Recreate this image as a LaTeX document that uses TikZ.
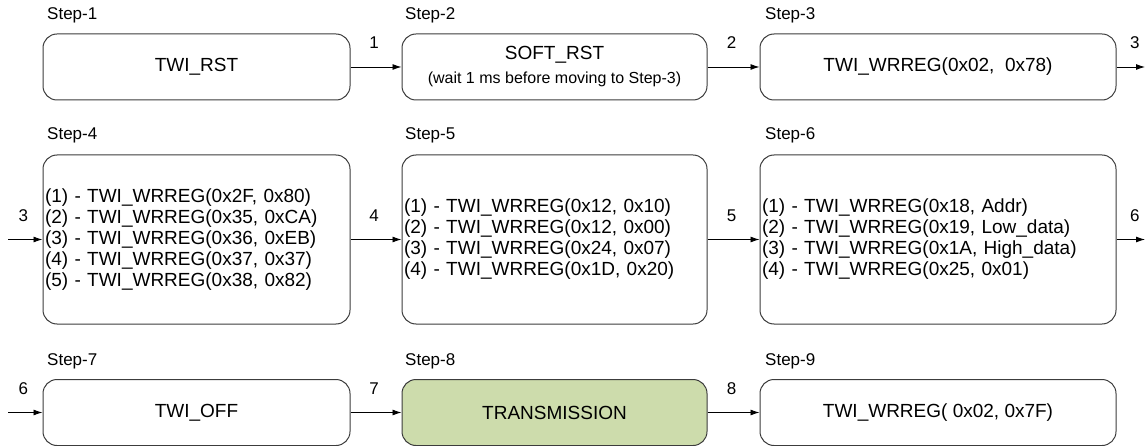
\documentclass[tikz,border=0pt]{standalone}
\usepackage{fontspec}
\setmainfont{Liberation Sans}
\usepackage{tikz}
\usetikzlibrary{arrows.meta}
\definecolor{boxgray}{RGB}{60,60,60}
\definecolor{txgreen}{RGB}{205,220,172}
\newcommand{\boxfont}{\fontsize{19}{21}\selectfont}
\newcommand{\smallfont}{\fontsize{16}{19}\selectfont}
\newcommand{\lblfont}{\fontsize{17}{20}\selectfont}
\tikzset{
  box/.style={draw=boxgray, line width=1pt, rounded corners=14pt, inner sep=2pt,
    minimum height=66pt, font=\boxfont},
  tallbox/.style={box, minimum height=169pt, align=left},
  arr/.style={-{Latex[length=9pt,width=6pt]}, line width=0.9pt},
  num/.style={midway, yshift=24pt, xshift=-2pt, font=\lblfont, inner sep=0pt}
}
\newcommand{\steplabel}[4]{\node[font=\lblfont, anchor=west, inner sep=0pt] (#1) at ( #2 , #3 ) {#4};}

\begin{document}
\begin{tikzpicture}[x=1pt,y=-1pt]
\useasboundingbox (0,0) rectangle (1147,446);
% row 1 of boxes
\node[box, minimum width=307pt] (s1) at (196.5,67) {TWI\_RST};
\node[box, minimum width=305pt, align=center] (s2) at (554.5,67)
  {SOFT\_RST\\[3pt]{\smallfont (wait 1 ms before moving to Step-3)}};
\node[box, minimum width=356pt] (s3) at (938,67) {TWI\_WRREG(0x02,\ \ 0x78)};
% row 2 of boxes
\node[tallbox, text width=303pt] (s4) at (196.5,239.5)
  {(1) - TWI\_WRREG(0x2F, 0x80)\\(2) - TWI\_WRREG(0x35, 0xCA)\\(3) - TWI\_WRREG(0x36, 0xEB)\\(4) - TWI\_WRREG(0x37, 0x37)\\(5) - TWI\_WRREG(0x38, 0x82)};
\node[tallbox, text width=301pt] (s5) at (554.5,239.5)
  {(1) - TWI\_WRREG(0x12, 0x10)\\(2) - TWI\_WRREG(0x12, 0x00)\\(3) - TWI\_WRREG(0x24, 0x07)\\(4) - TWI\_WRREG(0x1D, 0x20)};
\node[tallbox, text width=352pt] (s6) at (938,239.5)
  {(1) - TWI\_WRREG(0x18, Addr)\\(2) - TWI\_WRREG(0x19, Low\_data)\\(3) - TWI\_WRREG(0x1A, High\_data)\\(4) - TWI\_WRREG(0x25, 0x01)};
% row 3 of boxes
\node[box, minimum width=307pt] (s7) at (196.5,412.5) {TWI\_OFF};
\node[box, minimum width=305pt, fill=txgreen] (s8) at (554.5,412.5) {TRANSMISSION};
\node[box, minimum width=356pt] (s9) at (938,412.5) {TWI\_WRREG( 0x02, 0x7F)};
% step labels
\steplabel{l1}{47}{15}{Step-1}
\steplabel{l2}{405}{15}{Step-2}
\steplabel{l3}{765}{15}{Step-3}
\steplabel{l4}{47}{135}{Step-4}
\steplabel{l5}{405}{135}{Step-5}
\steplabel{l6}{765}{135}{Step-6}
\steplabel{l7}{47}{361}{Step-7}
\steplabel{l8}{405}{361}{Step-8}
\steplabel{l9}{765}{361}{Step-9}
% loose ends
\coordinate (out3) at (1145,67);
\coordinate (in4) at (8,239.5);
\coordinate (out6) at (1145,239.5);
\coordinate (in7) at (8,412.5);
% arrows
\draw[arr] (s1.east) -- node[num]{1} (s2.west);
\draw[arr] (s2.east) -- node[num]{2} (s3.west);
\draw[arr] (s3.east) -- node[num, xshift=6pt]{3} (out3);
\draw[arr] (in4) -- node[num]{3} (s4.west);
\draw[arr] (s4.east) -- node[num]{4} (s5.west);
\draw[arr] (s5.east) -- node[num]{5} (s6.west);
\draw[arr] (s6.east) -- node[num, xshift=6pt]{6} (out6);
\draw[arr] (in7) -- node[num]{6} (s7.west);
\draw[arr] (s7.east) -- node[num]{7} (s8.west);
\draw[arr] (s8.east) -- node[num]{8} (s9.west);
\end{tikzpicture}
\end{document}
